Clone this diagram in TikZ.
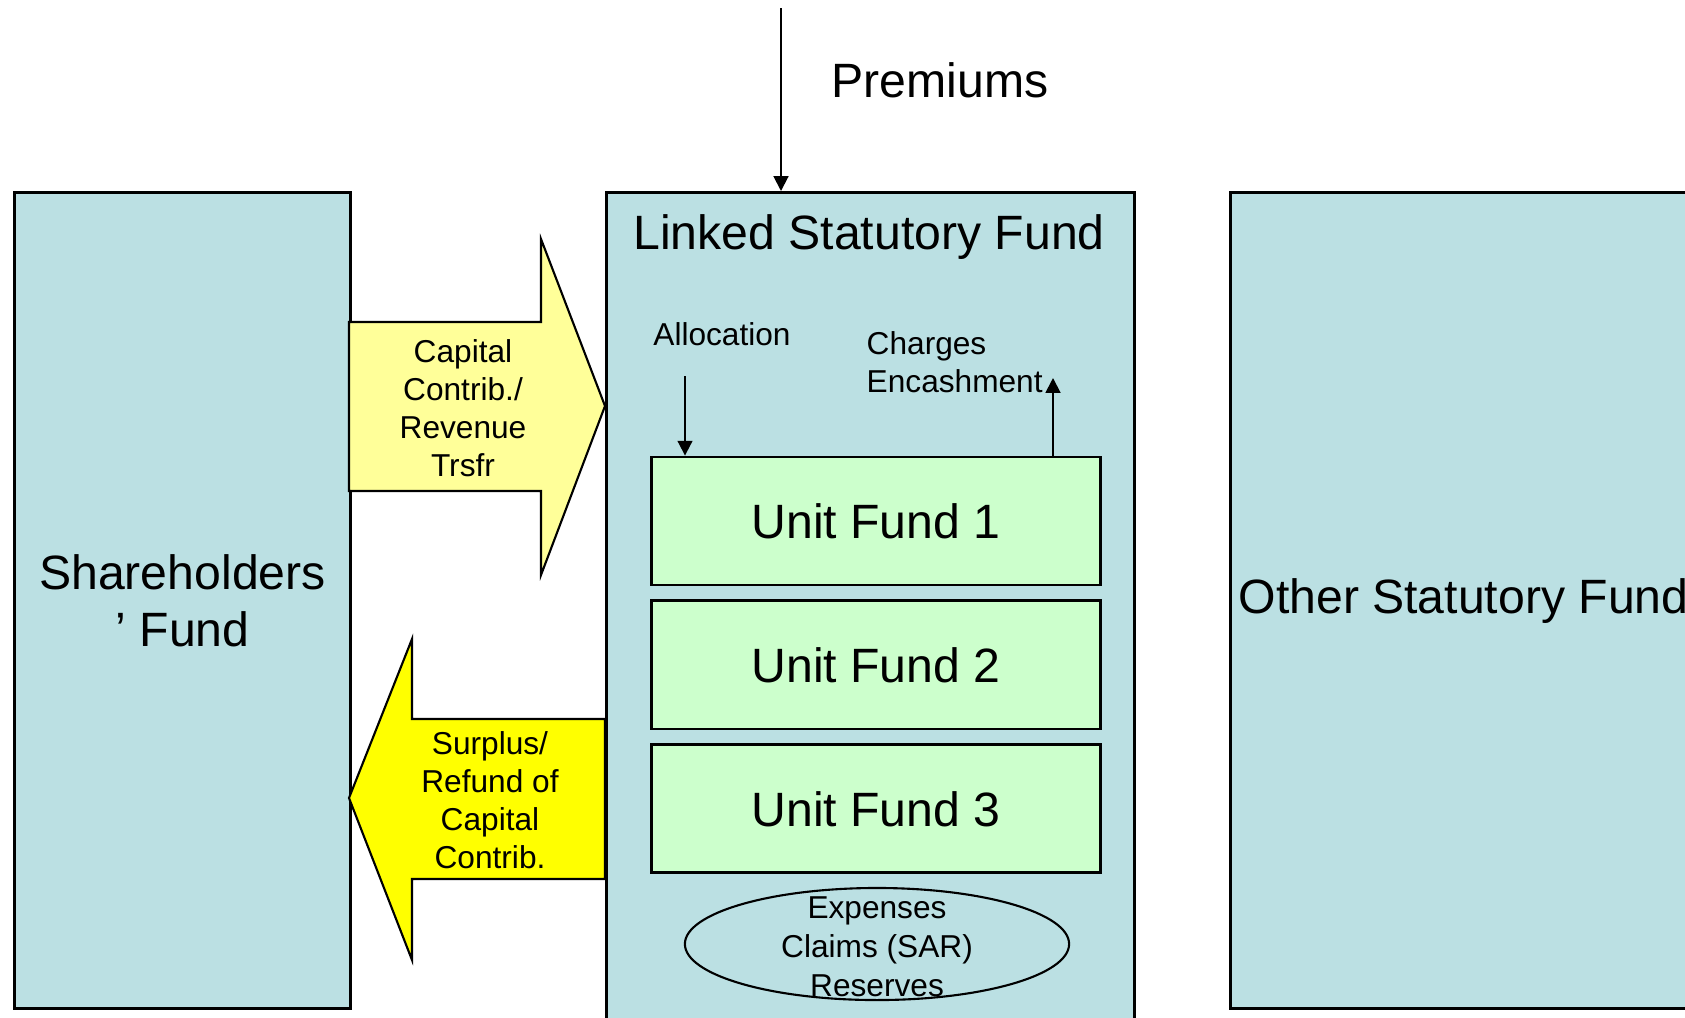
\documentclass[tikz,border=0pt]{standalone}
\usepackage{fontspec}
\setmainfont{Liberation Sans}
\usetikzlibrary{positioning}
\usetikzlibrary{shapes.geometric}
\usetikzlibrary{arrows.meta}
\definecolor{fundblue}{RGB}{187,224,227}
\definecolor{unitgreen}{RGB}{204,255,204}
\definecolor{paleyellow}{RGB}{255,255,153}
\definecolor{brightyellow}{RGB}{255,255,0}
\newcommand{\bigfont}{\fontsize{13.7pt}{16.2pt}\selectfont}
\newcommand{\smallfont}{\fontsize{9pt}{10.8pt}\selectfont}
\tikzset{
  fundbox/.style={draw, fill=fundblue, line width=0.8pt, inner sep=0pt, anchor=north west, font=\bigfont, align=center},
  unitbox/.style={draw, fill=unitgreen, line width=0.8pt, minimum width=4.48cm, minimum height=1.28cm, font=\bigfont},
  bigtxt/.style={font=\bigfont, align=center},
  smalltxt/.style={font=\smallfont, align=center, inner sep=0pt},
  flow/.style={line width=0.55pt, -{Triangle[length=4.2pt,width=4.2pt]}},
  blockarrow/.style={draw, line width=0.6pt, line join=miter}
}

\begin{document}
\begin{tikzpicture}[x=0.01cm, y=-0.01cm]
  \useasboundingbox (0,0) rectangle (1685,1017);
  % the three funds
  \node[fundbox, minimum width=3.36cm, minimum height=8.16cm] (share) at (13,191) {Shareholders\\’ Fund};
  \node[fundbox, minimum width=5.28cm, minimum height=8.5cm] (lsf) at (605,191) {};
  \node[fundbox, minimum width=4.66cm, minimum height=8.16cm] (other) at (1229,191) {Other Statutory Fund};
  \node[bigtxt] (lsftitle) at (869,237) {Linked Statutory Fund};

  % transfers between shareholders and linked fund
  \filldraw[blockarrow, fill=paleyellow] (349,322) -- (541,322) -- (541,239) -- (605,406) -- (541,575) -- (541,491) -- (349,491) -- cycle;
  \node[smalltxt] (capin) at (463,408) {Capital\\Contrib./\\Revenue\\Trsfr};
  \filldraw[blockarrow, fill=brightyellow] (605,719) -- (412,719) -- (412,639) -- (349,798) -- (412,960) -- (412,879) -- (605,879) -- cycle;
  \node[smalltxt] (surout) at (490,800) {Surplus/\\Refund of\\Capital\\Contrib.};

  % unit funds
  \node[unitbox] (uf1) at (876,521) {Unit Fund 1};
  \node[unitbox, below=0.13cm of uf1] (uf2) {Unit Fund 2};
  \node[unitbox, below=0.13cm of uf2] (uf3) {Unit Fund 3};

  \node[ellipse, draw, line width=0.6pt, minimum width=3.84cm, minimum height=1.12cm, inner sep=0pt] (pool) at (877,944) {};
  \node[smalltxt, font=\fontsize{9pt}{11.1pt}\selectfont] (poolt) at (877,947) {Expenses\\Claims (SAR)\\Reserves};

  % premiums in
  \node[bigtxt] (premlbl) at (940,80) {Premiums};
  \coordinate (premtop) at (781,8);
  \draw[flow] (premtop) -- (premtop |- lsf.north);

  % allocation and charges
  \node[smalltxt] (alloc) at (722,334) {Allocation};
  \coordinate (alloctop) at (685,376);
  \draw[flow] (alloctop) -- (alloctop |- uf1.north);
  \node[smalltxt, align=left, anchor=west] (chg) at (866,362) {Charges\\Encashment};
  \coordinate (chgtop) at (1053,378);
  \draw[flow] (chgtop |- uf1.north) -- (chgtop);
\end{tikzpicture}
\end{document}
